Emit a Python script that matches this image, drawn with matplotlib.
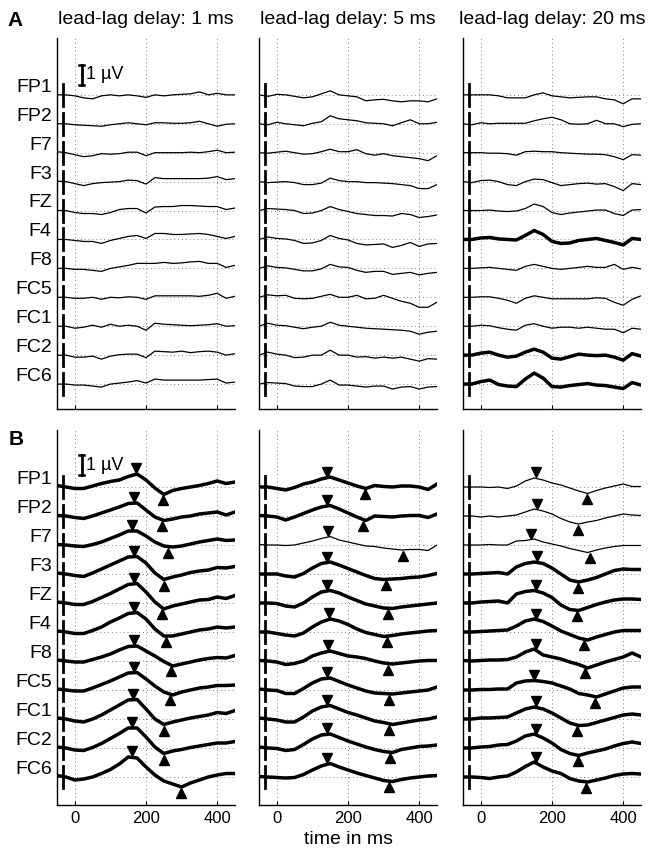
import numpy as np
import matplotlib.pyplot as plt
from matplotlib.transforms import blended_transform_factory

plt.rcParams['font.family'] = ['Liberation Sans', 'DejaVu Sans']

# ---- data (one value every 25 ms) ----
t = np.arange(-50, 451, 25)  # ms
channels = ['FP1', 'FP2', 'F7', 'F3', 'FZ', 'F4', 'F8', 'FC5', 'FC1', 'FC2', 'FC6']
delays = ['1 ms', '5 ms', '20 ms']
UNIT = 0.05   # amplitudes below are in steps of 0.05 uV
GAP = 1.45    # uV between channel baselines

# A: lead-lag delay 1 ms
a_1ms = [
    [0, 0, -1, -3, -4, -1, 0, -1, 0, -1, -2.5, 0, -1, 0, 0.5, 1, 3, 0, 1.5, 0, 0],
    [0, 0, -1, -1.5, -2, -2.5, -1, 0, 1, 0, -1, 1, 1, 0.5, 0.5, 1, 2.5, 0, -2.5, -0.5, 0],
    [1, 0, -2, -4, -3, -1, -1.5, -1, 0.5, 0.5, -3, 0, 0, 0, 0, 0.5, 0, 1, 2.5, 0, 0.5],
    [0.5, 0, -2, -4, -2, -1, -0.5, 0, 1.5, 1, -2.5, 4, 3, 3, 3, 3, 3, 3.5, 5, 2, 3],
    [0, 0, -2, -3, -3, -4, -2, 1, 2, 2, -2.5, 3.5, 4, 4, 5, 5, 4.5, 4, 4, 1, 2.5],
    [0, 0, -1, -2, -2, -4, -1, 1, 3, 4, 1, 6, 6, 5, 5, 5.5, 6, 5, 3, 1, 3],
    [0, 0, -1, -1, -2, -3, 0, 1.5, 3, 5, 5, 5, 6, 5, 5.5, 6.5, 7, 5, 5, 1, 3],
    [0, 0, -1, -1, 0, -2, 0, -0.5, 0.5, 0, -2, 1.5, 1.5, 1.5, 1.5, 1.5, 1, 2, 4, -1, 1],
    [0, 0, -2, -1, 1, -1, 2, 0, 1, 0, -4, 3, 2, 1.5, 1, 0.5, 1, 1.5, 2.5, 0, 0.5],
    [0, 0, -2, -2, -1, -4, -1, 0.5, 1, 1, -2.5, 4, 3.5, 3, 4, 2.5, 3.5, 4, 3, 0, 1.5],
    [0, 0, -1, -1, -2, -3, 0, 1, 2, 3.5, 1, 5, 4, 4, 4, 4, 4, 4.5, 5, 1, 2],
]
# A: lead-lag delay 5 ms
a_5ms = [
    [0, -1.5, 0.5, 0, -1.5, -3, -2, 1, 4, 0, -1, -2, -6, -5, -4.5, -6, -7, -6, -6, -7, -4],
    [0, -1, 1.5, 0, -1, -2, 0.5, 2, 8, 5, 4, 3, 1, 0.5, 0, -2, 1, 4, 0, 0, 1.5],
    [0, -0.5, 0.5, 1.5, 0, -1.5, -1, 1, 3.5, 1, 1, 3, -1, -2.5, -1, -3, -4, -5, -6, -8, -3],
    [0, -1, -0.5, 0, -1, -3, -3, -1.5, 3.5, 1, 0, 0, -1, -1, -1.5, -2, -3, -4, -7, -7, -3],
    [0, 2, 1.5, 1, 0, -3, -2.5, 0, 4, 1, -1, -3, -4, -5, -5, -5.5, -3, -4, -7, -6, -4.5],
    [0, 2.5, 1, 0.5, -1, -4, -3.5, -1, 4, 1, -0.5, -4, -5.5, -5, -4.5, -8, -6, -3, -7, -4.5, -4],
    [0, 2.5, 1, 0.5, -1, -2.5, -2.5, -0.5, 4, 1.5, 1, -2, -4, -3, -3, -6, -5, -4, -6.5, -5, -4],
    [0, 2.5, 1.5, 2, -1, -1.5, -1, 1, 3, 0, 0, 2, -1.5, -1, 2, -1, -4, -6, -10, -10, -5],
    [0, 3, 1, 0.5, -1, -2.5, -1, 0, 4, 1, 0, -1, -2, -2.5, -3, -3.5, -4, -5, -8, -6, -5],
    [0, 3, 1, 0, -2.5, -2, 0, 0, 5, 0, 0, -2, -1.5, -3, -2, -3, -2, -4, -6, -3.5, -4],
    [0, 1.5, 1, 0.5, -2, -2.5, -2.5, 0, 4, -1, -1, -2, -3, -2, -2, -5, -3, -2.5, -5, -3, -2.5],
]
# A: lead-lag delay 20 ms
a_20ms = [
    [0, 0, 0, 0, -1, -3, -3, -3, 0, 2, -1, -2, -3, -2.5, -2, -2, -4, -5, -9, -4, -4],
    [0, -1, 1, 0, 0.5, 0.5, 0.5, 0.5, 3, 5, 6.5, 4, 0, -0.5, 0, 3.5, 0, 0, -3, -0.5, 0],
    [0, 0, 0, -0.5, -0.5, -1, -2.5, 1, 1.5, 1, 1, 0, -0.5, -1, -1.5, -1.5, -2, -4, -7, -2, -2.5],
    [0, -1, 1, 1.5, 0, -3, -4, 0, 2.5, 2, -1, -4, -3, -2, -1.5, -2.5, -2, -5, -9, -2, -3],
    [0, 0, 0, 0.5, -0.5, -1, -0.5, 2, 6.5, 4, -2, -4, -2.5, -1.5, -0.5, 0.5, 0.5, -3, -5, 0.5, 1],
    [0, 0, 1.5, 2, 0.5, 0, -0.5, 4, 9, 5, -2, -4, -3.5, -1, 0, 1, -1, -3, -5.5, 1, 0],
    [0, 0, 0.5, 1, 0, -1, -2, 2, 4, 2, 0, -1, 0, 1, 2, 1, 1, 4, -1, 1, -0.5],
    [0, 0, 0.5, 0.5, -1, -3, -6, -1, 1.5, 0, -1.5, -1.5, -1.5, -1.5, -1.5, -0.5, -1, -5, -8, -2, 1.5],
    [0, 0, 1, 0.5, -1.5, -3, -4, 1, 2.5, 0, -2, -1, -1, -2, -1, -2, -3, -3, -6.5, -2, -3],
    [0, 0, 2, 3, 0, -2, -1, 3, 6, 3, -3, -4, -1.5, 1, 0, -0.5, 0, -2, -5, 1.5, -1],
    [0, 0, 2.5, 4, -0.5, -2, -2.5, 5, 11, 6, -2.5, -3, -1.5, -0.5, 0.5, -1, -1.5, -3, -4.5, 1.5, -1],
]
# B: lead-lag delay 1 ms
b_1ms = [
    [1.5, 0, -1.5, -1.5, 1, 3.5, 5.5, 7, 10.5, 13, 7, -1, -7.5, -3.5, -1.5, 0, 1.5, 3.5, 6, 3.5, 5],
    [0.5, 0, -1.5, -2.5, 0, 3, 6, 9, 12.5, 13, 6, -1, -4.5, -3, -1, 0, 2, 3, 4, 1, 4],
    [0.5, 0, -1, -1.5, 0.5, 3, 6.5, 10, 14, 14, 9, 3, -1, -2, -1, 1, 3, 4.5, 6, 4.5, 5],
    [1, 0, -1.5, -2.5, 1, 5, 9, 13, 17, 17.5, 11, 1, -5.5, -3, -1, 1.5, 3, 4, 6.5, 6, 7.5],
    [1, 0, -1.5, -1.5, 1.5, 5.5, 9.5, 14, 18.5, 19.5, 11, 1, -6, -3, -1, 1, 3, 3.5, 6, 4.5, 7.5],
    [1, 0, -1.5, -1.5, 1.5, 5, 10, 14, 18.5, 19.5, 13, 3, -4, -4, -2, 0, 2, 3, 5, 4, 5],
    [1, 0, -1, -1, 1.5, 4, 7, 11, 14.5, 15, 10, 5, -0.5, -5, -3, -1, 1, 2.5, 3.5, 3, 5.5],
    [1, 0, -1, -1, 2, 5.5, 9, 13, 17, 17.5, 11, 4, -2, -5, -2, 0, 2, 3, 4.5, 4.5, 5],
    [1, 0, -2, -3, 0, 4, 9, 14, 19, 19.5, 10, 0, -5.5, -3, -1, 1, 2.5, 4, 6.5, 5.5, 8.5],
    [1, 0, -2, -2.5, 0.5, 4.5, 9.5, 14.5, 20, 20, 11, 1, -5.5, -3, -1.5, 0.5, 2, 3.5, 5, 5, 6.5],
    [1.5, 0, -3, -2, 0, 3.5, 7.5, 13, 20, 19, 10, 2, -4, -7, -10, -6, -3, 0, 2, 3.5, 3.5],
]
# B: lead-lag delay 5 ms
b_5ms = [
    [0, 0, -1.5, -3, -0.5, 3, 5, 8, 10, 7, 4, 1, -1.5, 1.5, 0.5, 0, 1, 1, 0, -2.5, 3],
    [0.5, 0, -1, -4, -1, 2.5, 6, 9, 10.5, 7, 3, -1, -4.5, 0, -0.5, -1, 0, 0.5, 0.5, -1.5, 2],
    [0.5, 0, 0, -0.5, 0, 2, 4, 6.5, 8.5, 5, 3, 1, -1, -1.5, -3, -4, -5, -4.5, -4.5, -5.5, 0],
    [0, 0, 0, -2, -3, 0.5, 6, 10.5, 12, 9, 5.5, 2, -1.5, -4.5, -5.5, -5, -4.5, -3.5, -3, -1.5, 0.5],
    [0, 0, -0.5, -3, -4, 0, 6, 11, 12.5, 10, 6, 2.5, -1, -3, -5, -5.5, -4, -3, -2, -1, 0],
    [0, 0, -1.5, -3, -4, -1, 5, 10, 13, 11, 7.5, 3, -0.5, -2.5, -4.5, -3.5, -2, -1, 0, 1, 1.5],
    [0.5, 0, -1, -3.5, -2.5, 0, 5, 8, 10, 7.5, 5, 4, 2.5, 0, -2, -3, -2, -1, 0, 0.5, 0.5],
    [1, 0, -0.5, -3.5, -3.5, 1.5, 7, 11, 12, 8.5, 5, 2, -1, -3, -3.5, -4, -3, -2, -1, 0, 3],
    [1, 0, -1, -3, -3, 2, 8, 12, 13.5, 10, 6.5, 4, 1, -2, -3.5, -5.5, -4, -2.5, -1, 0, 2],
    [1, 0, -0.5, -2.5, -1.5, 3.5, 9, 13, 14, 10.5, 7, 4, 1, -1.5, -3.5, -4.5, -1.5, 0, 1.5, 2, 3],
    [0.5, 0, -0.5, -1, -0.5, 2.5, 7, 11, 13.5, 10, 7, 4, 1.5, -1, -3.5, -4.5, -2.5, -1, 0, 1, 1.5],
]
# B: lead-lag delay 20 ms
b_20ms = [
    [0, 0, 0, -0.5, 0, -1.5, 1, 6, 9, 7, 4, 2, -1, -4, -6.5, -3.5, -1, 1, 3, 0.5, 0.5],
    [0, 0, -1, 0, -1, 0, 1, 4, 7, 5, 2, -2.5, -6, -8, -6, -4.5, -2, 0, 2, 1, 0.5],
    [0, 0, 0, 0.5, 0, 0, 4, 4.5, 6, 3, 1, -1, -3.5, -5.5, -7.5, -5, -3, -1.5, -0.5, -0.5, -0.5],
    [0, 0, 0.5, 1, 1.5, 0, 7, 10.5, 12, 10.5, 6, 0, -6, -8, -6, -3.5, 0, 3.5, 5, 4.5, 4.5],
    [0, 0, 1, 1.5, 2, 0, 9, 11.5, 12.5, 10, 5.5, -2, -6.5, -7.5, -4.5, -1.5, 1, 3, 4, 4, 3.5],
    [0, 0, 0.5, 1, 1.5, 2, 6, 11, 13, 10.5, 6, 1, -2.5, -6, -8, -5, -2.5, 0, 1.5, 1.5, 1.5],
    [0.5, 0, 0.5, 1, 1, 1.5, 4, 9, 12, 6, 4, 2, -1, -3.5, -7, -4, -1, 1.5, 4, 8, 4],
    [0, 0, 0.5, 0.5, 1, 1, 7, 9, 9.5, 8.5, 7, 4, 1, -3.5, -5, -7, -4, -1, 2, 3, 3],
    [0, 0, 1, 1, 1.5, 2, 6, 10, 12, 10, 6, 1, -4, -6.5, -6, -3.5, -1, 1.5, 4, 5, 4],
    [0, 0, 1, 1.5, 3, 3.5, 7, 12, 14, 10, 5, -1.5, -5.5, -7.5, -5, -3, -1, 2, 4.5, 6, 4.5],
    [0, 0, -0.5, -1.5, 0, 1, 5, 10.5, 15, 10, 6, 3.5, -1.5, -4, -5, -3, -1, 1.5, 3, 3.5, 3],
]

# peak / trough latencies (ms) marked in B
b_peak = [
    [172, 165, 160, 165, 165, 165, 165, 165, 163, 162, 160],
    [142, 142, 145, 140, 142, 148, 145, 142, 142, 142, 142],
    [155, 158, 141, 158, 155, 155, 155, 150, 155, 155, 155],
]
b_trough = [
    [248, 246, 263, 250, 246, 255, 270, 268, 250, 250, 297],
    [248, 243, 355, 307, 313, 309, 313, 315, 315, 318, 315],
    [298, 273, 306, 273, 270, 289, 292, 320, 270, 272, 295],
]

# which channels are drawn bold
a_bold = [
    [False] * 11,
    [False] * 11,
    [c in ('F4', 'FC2', 'FC6') for c in channels],
]
b_bold = [
    [True] * 11,
    [c != 'F7' for c in channels],
    [c not in ('FP1', 'FP2', 'F7') for c in channels],
]

W, H = 653, 858
fig = plt.figure(figsize=(W / 100, H / 100), dpi=100)


def px_rect(x0, y0, x1, y1):
    return [x0 / W, 1 - y1 / H, (x1 - x0) / W, (y1 - y0) / H]


col_x = [57, 259, 463]
col_w = 178
rows = [(38, 409, -1.25), (430, 805, -1.4)]
baselines = [(len(channels) - 1 - i) * GAP for i in range(len(channels))]
top = baselines[0] + 2.85

for r, (y0, y1, ybot) in enumerate(rows):
    for c in range(3):
        ax = fig.add_axes(px_rect(col_x[c], y0, col_x[c] + col_w, y1))
        traces = [a_1ms, a_5ms, a_20ms][c] if r == 0 else [b_1ms, b_5ms, b_20ms][c]
        bold = a_bold[c] if r == 0 else b_bold[c]
        for i, base in enumerate(baselines):
            y = base + np.array(traces[i]) * UNIT
            ax.plot(t, y, color='k', lw=2.5 if bold[i] else 0.9,
                    solid_joinstyle='round', zorder=3)
            ax.plot([-32, -32], [base - 0.55, base + 0.55], color='k', lw=2, zorder=3)
            if r == 1:
                tp = b_peak[c][i]
                tt = b_trough[c][i]
                ax.plot(tp, np.interp(tp, t, y) + 0.3, 'v', color='k', ms=7, zorder=4)
                ax.plot(tt, np.interp(tt, t, y) - 0.3, '^', color='k', ms=7, zorder=4)

        ax.set_xlim(-50, 450)
        ax.set_ylim(ybot, top)
        ax.set_xticks([0, 200, 400])
        ax.set_yticks(baselines)
        ax.set_yticklabels([])
        ax.grid(True, ls=(0, (1, 3)), color='0.5', lw=0.7)
        ax.tick_params(axis='y', length=0)
        ax.tick_params(axis='x', direction='in', length=3, labelsize=12, pad=4)
        if r == 0:
            ax.set_xticklabels([])
        for s in ('top', 'right'):
            ax.spines[s].set_visible(False)
        for s in ('left', 'bottom'):
            ax.spines[s].set_linewidth(1.0)

        if c == 0:
            tr = blended_transform_factory(ax.transAxes, ax.transData)
            for name, base in zip(channels, baselines):
                ax.text(-0.03, base + 0.38, name, transform=tr, ha='right',
                        va='center', fontsize=14)
            # 1 uV scale bar
            b0 = baselines[0] + (0.5 if r == 0 else 0.6)
            ax.plot([20, 20], [b0, b0 + 1], color='k', lw=2)
            ax.plot([13, 27], [b0, b0], color='k', lw=1.8)
            ax.plot([13, 27], [b0 + 1, b0 + 1], color='k', lw=1.8)
            ax.text(32, b0 + 0.5, '1 µV', fontsize=13, ha='left', va='center')

# titles and panel letters
for c, d in enumerate(delays):
    fig.text((col_x[c] + col_w / 2) / W, 1 - 20 / H, 'lead-lag delay: ' + d,
             ha='center', va='center', fontsize=14)
fig.text(15 / W, 1 - 20 / H, 'A', fontsize=15, fontweight='bold', ha='center', va='center')
fig.text(16 / W, 1 - 440 / H, 'B', fontsize=15, fontweight='bold', ha='center', va='center')
fig.text((col_x[1] + col_w / 2) / W, 1 - 840 / H, 'time in ms', ha='center',
         va='center', fontsize=14)

fig.savefig('out.png', dpi=100)
